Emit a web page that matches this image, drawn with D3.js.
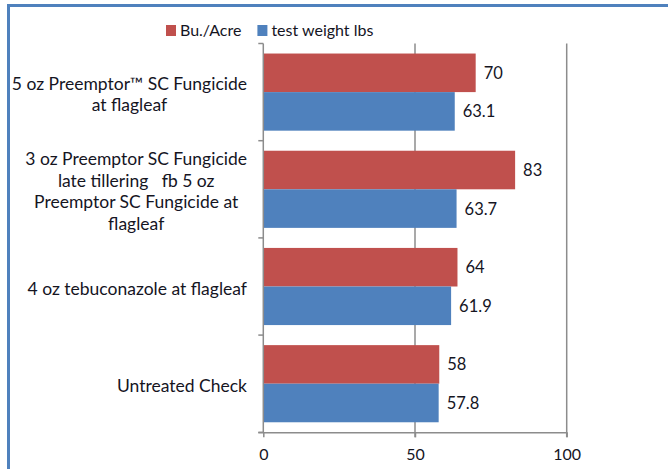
<!DOCTYPE html>
<html><head><meta charset="utf-8">
<script src="https://cdn.jsdelivr.net/npm/d3@7"></script>
<style>html,body{margin:0;padding:0;background:#fff;overflow:hidden}</style>
</head><body>
<svg id="chart" width="668" height="469"></svg>
<script>
const categories = [
  ["5 oz Preemptor™ SC Fungicide", "at flagleaf"],
  ["3 oz Preemptor SC Fungicide", "late tillering   fb 5 oz", "Preemptor SC Fungicide at", "flagleaf"],
  ["4 oz tebuconazole at flagleaf"],
  ["Untreated Check"]
];
const seriesNames = ["Bu./Acre", "test weight lbs"];
const buAcre = [70, 83, 64, 58];
const testWeight = [63.1, 63.7, 61.9, 57.8];
const seriesLabels = [["70","83","64","58"],["63.1","63.7","61.9","57.8"]];
const xTicks = [0, 50, 100];
const colors = ["#c0504d", "#4f81bd"];

(function () {
const FONT = "Lato, 'Open Sans', sans-serif";
const TXT = "#15151f";
const svg = d3.select("#chart");

svg.append("rect").attr("x", 8.5).attr("y", 5.5).attr("width", 800).attr("height", 600)
  .attr("fill", "none").attr("stroke", "#4f81bd").attr("stroke-width", 3);

const pLeft = 263.3, pRight = 566.7, pTop = 43.5, pBottom = 432.3;
const x = d3.scaleLinear().domain([0, 100]).range([pLeft, pRight]);
const catIdx = d3.range(categories.length);
const y = d3.scaleBand().domain(catIdx).range([pTop, pBottom]).padding(0);
const ys = d3.scaleBand().domain([0, 1]).range([0, y.bandwidth()]).paddingInner(0).paddingOuter(0.26);

const grid = "#8c8c8c";
svg.append("g").selectAll("line").data(xTicks.slice(1)).join("line")
  .attr("x1", d => x(d)).attr("x2", d => x(d)).attr("y1", pTop).attr("y2", pBottom + 5)
  .attr("stroke", grid).attr("stroke-width", 1.5);

const data = [buAcre, testWeight];
data.forEach((vals, s) => {
  svg.append("g").selectAll("rect").data(vals).join("rect")
    .attr("x", x(0)).attr("y", (d, i) => y(i) + ys(s))
    .attr("width", d => x(d) - x(0)).attr("height", ys.bandwidth())
    .attr("fill", colors[s]);
  svg.append("g").selectAll("text").data(vals).join("text")
    .attr("x", d => x(d) + 8).attr("y", (d, i) => y(i) + ys(s) + ys.bandwidth() / 2)
    .attr("dy", "0.36em").attr("font-family", FONT).attr("font-size", 16.5).attr("fill", TXT)
    .text((d, i) => seriesLabels[s][i]);
});

svg.append("line").attr("x1", pLeft).attr("x2", pLeft).attr("y1", pTop).attr("y2", pBottom)
  .attr("stroke", grid).attr("stroke-width", 1.5);
svg.append("g").selectAll("line").data(d3.range(categories.length + 1)).join("line")
  .attr("x1", pLeft - 5).attr("x2", pLeft)
  .attr("y1", d => pTop + d * y.step()).attr("y2", d => pTop + d * y.step())
  .attr("stroke", grid).attr("stroke-width", 1.5);

const xAxis = svg.append("g").attr("transform", `translate(0,${pBottom})`)
  .call(d3.axisBottom(x).tickValues(xTicks).tickSize(5).tickPadding(11).tickSizeOuter(0));
xAxis.select(".domain").attr("d", `M${pLeft - 5},0.5H${pRight}`).attr("stroke", grid).attr("stroke-width", 1.5);
xAxis.selectAll(".tick line").attr("stroke", grid).attr("stroke-width", 1.5);
xAxis.selectAll(".tick text").attr("font-family", FONT).attr("font-size", 16).attr("fill", TXT);

const lh = 21.5, rightEdge = 247;
categories.forEach((lines, i) => {
  const g = svg.append("g");
  const cy = y(i) + y.bandwidth() / 2 + 2;
  const t = g.selectAll("text").data(lines).join("text")
    .attr("y", (d, k) => cy + (k - (lines.length - 1) / 2) * lh)
    .attr("dy", "0.36em").attr("text-anchor", "middle")
    .attr("font-family", FONT).attr("font-size", 17.5).attr("fill", TXT)
    .style("white-space", "pre")
    .text(d => d);
  let maxW = 0;
  t.each(function () { maxW = Math.max(maxW, this.getComputedTextLength()); });
  t.attr("x", rightEdge - maxW / 2);
});

const legend = svg.append("g").attr("transform", "translate(166,30)");
let lx = 0;
seriesNames.forEach((name, s) => {
  legend.append("rect").attr("x", lx).attr("y", -5).attr("width", 10).attr("height", 11).attr("fill", colors[s]);
  const tt = legend.append("text").attr("x", lx + 14).attr("y", 0).attr("dy", "0.36em")
    .attr("font-family", FONT).attr("font-size", 16).attr("fill", TXT).text(name);
  lx += 14 + tt.node().getComputedTextLength() + 16;
});
})();
</script>
</body></html>
